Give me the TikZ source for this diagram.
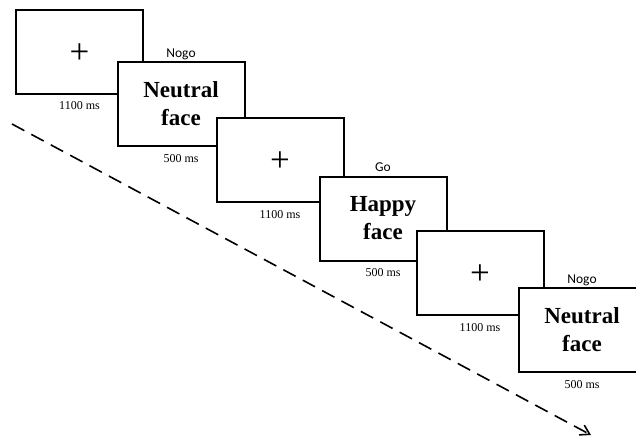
\documentclass[tikz,border=0pt]{standalone}
\usepackage{fontspec}
\setmainfont{Liberation Serif}
\newfontfamily\labelfont{Carlito}
\usetikzlibrary{arrows.meta,calc}
\begin{document}
\begin{tikzpicture}[x=1pt,y=-1pt,
  screen/.style={draw,fill=white,line width=2pt,minimum width=127pt,minimum height=84pt,inner sep=0pt,outer sep=0pt,align=center},
  edge/.style={line width=2pt},
  face/.style={font=\fontsize{23}{28}\selectfont\bfseries},
  fix/.style={font=\fontsize{35}{35}\selectfont},
  dur/.style={font=\fontsize{12}{14}\selectfont,anchor=base,inner sep=0pt},
  cue/.style={font=\labelfont\fontsize{13.5}{16}\selectfont,anchor=base,inner sep=0pt}]
\useasboundingbox (0,0) rectangle (636,439);
\clip (0,0) rectangle (636,439);
\fill[white] (0,0) rectangle (636,439);
% time arrow
\coordinate (t0) at (12,124);
\coordinate (t1) at (591,435);
\draw[line width=1.6pt,dash pattern=on 14pt off 8pt,-{Straight Barb[length=9pt,width=11pt]}] (t0) -- (t1);
% screens
\node[screen] (b1) at (79.5,51.5) {};
\node[screen,face] (b2) at (181,104) {Neutral\\face};
\node[screen] (b3) at (280,160) {};
\node[screen,face] (b4) at (383,218.5) {Happy\\face};
\node[screen] (b5) at (480,273) {};
\node[screen,face,draw=none] (b6) at (582,330) {Neutral\\face};
\draw[edge] ($(b6.north west)+(130,0)$) -- (b6.north west) -- (b6.south west) -- ($(b6.south west)+(130,0)$);
% fixation crosses
\node[fix,inner sep=0pt] (p1) at ($(b1.center)+(0,2)$) {+};
\node[fix,inner sep=0pt] (p3) at ($(b3.center)+(0,2)$) {+};
\node[fix,inner sep=0pt] (p5) at ($(b5.center)+(0,2)$) {+};
% durations
\node[dur] (d1) at ($(b1.south)+(0,16)$) {1100 ms};
\node[dur] (d2) at ($(b2.south)+(0,16)$) {500 ms};
\node[dur] (d3) at ($(b3.south)+(0,16)$) {1100 ms};
\node[dur] (d4) at ($(b4.south)+(0,16)$) {500 ms};
\node[dur] (d5) at ($(b5.south)+(0,16)$) {1100 ms};
\node[dur] (d6) at ($(b6.south)+(0,16)$) {500 ms};
% cues
\node[cue] (c2) at ($(b2.north)+(0,-5)$) {Nogo};
\node[cue] (c4) at ($(b4.north)+(0,-5)$) {Go};
\node[cue] (c6) at ($(b6.north)+(0,-5)$) {Nogo};
\end{tikzpicture}
\end{document}
